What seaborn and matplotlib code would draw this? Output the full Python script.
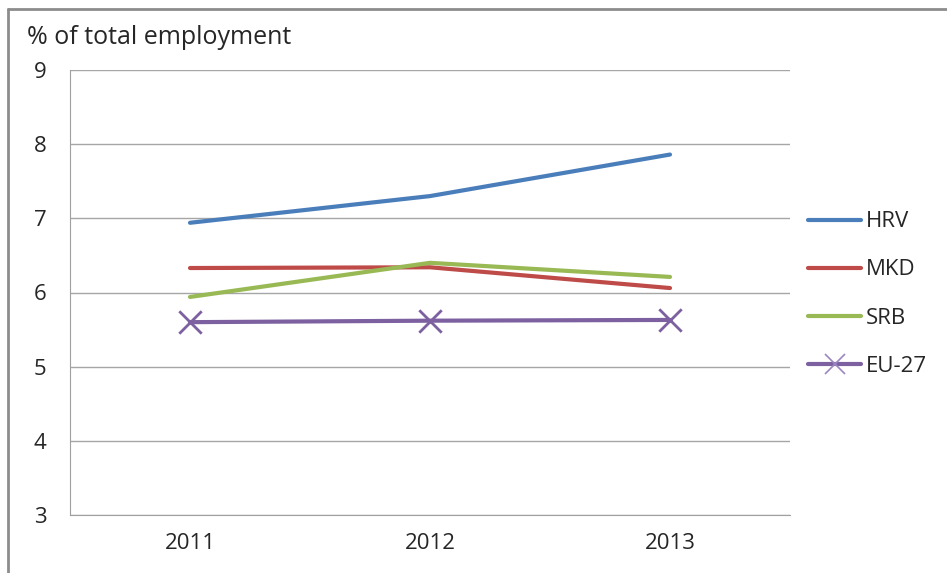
import matplotlib
matplotlib.use("Agg")
import matplotlib.pyplot as plt
from matplotlib.lines import Line2D
import seaborn as sns
import pandas as pd

years = ["2011", "2012", "2013"]
series_names = ["HRV", "MKD", "SRB", "EU-27"]
hrv = [6.94, 7.30, 7.86]
mkd = [6.33, 6.34, 6.06]
srb = [5.94, 6.40, 6.21]
eu27 = [5.60, 5.62, 5.63]
y_ticks = [3, 4, 5, 6, 7, 8, 9]

colors = {"HRV": "#4a7ebb", "MKD": "#be4b48", "SRB": "#98b954", "EU-27": "#7d60a0"}

rows = []
for name, vals in zip(series_names, [hrv, mkd, srb, eu27]):
    for yr, v in zip(years, vals):
        rows.append({"year": yr, "series": name, "value": v})
df = pd.DataFrame(rows)

sns.set_style("white")
plt.rcParams["font.family"] = ["Open Sans", "DejaVu Sans"]

fig = plt.figure(figsize=(9.47, 5.73), dpi=100)
ax = fig.add_axes([70/947, 1-515/573, 720/947, 445/573])

sns.lineplot(data=df, x="year", y="value", hue="series", hue_order=series_names,
             palette=colors, ax=ax, linewidth=3, sort=False, legend=False)
eu_df = df[df["series"] == "EU-27"]
sns.scatterplot(data=eu_df, x="year", y="value", ax=ax, marker="x", s=260,
                color=colors["EU-27"], linewidth=2, legend=False, zorder=5)

ax.set_xlim(-0.5, 2.5)
ax.set_ylim(3, 9)
ax.set_yticks(y_ticks)
ax.set_yticklabels([str(t) for t in y_ticks], fontsize=16)
ax.set_xticks([0, 1, 2])
ax.set_xticklabels(years, fontsize=16)
ax.set_xticks([-0.5, 0.5, 1.5, 2.5], minor=True)
ax.tick_params(axis="x", which="major", length=0, pad=13)
ax.tick_params(axis="x", which="minor", length=8, color="#a0a0a0", direction="out", width=1)
ax.tick_params(axis="y", which="major", length=8, color="#a0a0a0", direction="out", width=1, pad=9)
ax.yaxis.grid(True, color="#a6a6a6", linewidth=1)
ax.xaxis.grid(False)
ax.set_xlabel("")
ax.set_ylabel("")
for side in ["top", "right"]:
    ax.spines[side].set_visible(False)
ax.spines["left"].set_color("#a0a0a0")
ax.spines["bottom"].set_color("#a0a0a0")

fig.text(27/947, 1-38/573, "% of total employment", fontsize=18, va="center", ha="left")

handles = []
for name in series_names:
    if name == "EU-27":
        h = Line2D([0], [0], color=colors[name], linewidth=3, marker="x",
                   markersize=14, markeredgewidth=1.2, markeredgecolor="#9b86c0")
    else:
        h = Line2D([0], [0], color=colors[name], linewidth=3)
    handles.append(h)
fig.legend(handles, series_names, loc="center left", bbox_to_anchor=(788/947, 1-294/573),
           frameon=False, fontsize=16, handlelength=2.4, handletextpad=0.2,
           labelspacing=1.22)

fig.add_artist(Line2D([8/947, 1], [1-9/573, 1-9/573], transform=fig.transFigure,
                      color="#8c8c8c", linewidth=2))
fig.add_artist(Line2D([8/947, 8/947], [0, 1-9/573], transform=fig.transFigure,
                      color="#8c8c8c", linewidth=2))

fig.savefig("out.png", dpi=100)
